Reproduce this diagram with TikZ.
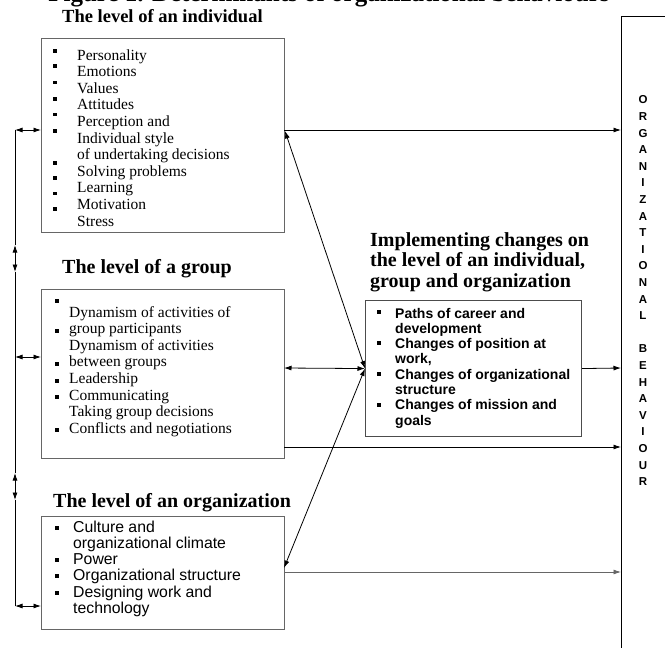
\documentclass[tikz,border=0pt]{standalone}
\usepackage{fontspec}
\setmainfont{Liberation Serif}
\setsansfont{Liberation Sans}
\usetikzlibrary{arrows.meta}

\tikzset{
  lvlbox/.style={draw=gray!80!black, line width=1.1pt, inner sep=0pt, anchor=north west},
  heading/.style={anchor=base west, inner sep=0pt, font=\bfseries\fontsize{20}{20.7}\selectfont},
  itemrm/.style={anchor=base west, inner sep=0pt, font=\fontsize{15.5}{16.6}\selectfont},
  itemsf/.style={anchor=base west, inner sep=0pt, font=\sffamily\fontsize{15.8}{16.4}\selectfont},
  itembf/.style={anchor=base west, inner sep=0pt, font=\sffamily\bfseries\fontsize{14}{15.3}\selectfont},
  obletter/.style={inner sep=0pt, font=\sffamily\bfseries\fontsize{11.5}{11.5}\selectfont},
  sq/.style={fill=black, minimum size=3.6pt, inner sep=0pt},
  link/.style={line width=0.8pt, -{Latex[length=7.5pt,width=5pt]}},
  both/.style={line width=0.8pt, {Latex[length=7.5pt,width=5pt]}-{Latex[length=7.5pt,width=5pt]}},
}

\begin{document}
\begin{tikzpicture}[x=1pt, y=-1pt]
    \useasboundingbox (0,0) rectangle (665,648);

    % Title (cut off at the top)
    \node[anchor=base, inner sep=0pt, font=\bfseries\fontsize{25}{25}\selectfont] (title) at (329,1.5) {Figure 1. Determinants of organizational behaviours};

    % Individual level
    \node[anchor=base west, inner sep=0pt, font=\bfseries\fontsize{18.5}{18.5}\selectfont] (indhead) at (62,22) {The level of an individual};
    \node[lvlbox, minimum width=243pt, minimum height=194pt] (ind) at (41,38) {};
    \foreach \t [count=\i] in {Personality, Emotions, Values, Attitudes, Perception and, Individual style, of undertaking decisions, Solving problems, Learning, Motivation, Stress}
        \node[itemrm] (ind\i) at (77,{60+16.6*(\i-1)}) {\t};
    \foreach \y [count=\i] in {50.7, 66, 82.3, 99, 114.3, 130.7, 162.7, 177.7, 193.3, 209}
        \node[sq] (indb\i) at (55,\y) {};

    % Group level
    \node[heading] (grphead) at (62,273) {The level of a group};
    \node[lvlbox, minimum width=243pt, minimum height=169pt] (grp) at (41,289) {};
    \foreach \t [count=\i] in {Dynamism of activities of, group participants, Dynamism of activities, between groups, Leadership, Communicating, Taking group decisions, Conflicts and negotiations}
        \node[itemrm] (grp\i) at (69,{317+16.6*(\i-1)}) {\t};
    \foreach \y [count=\i] in {301, 331, 364, 381, 397, 430}
        \node[sq] (grpb\i) at (57,\y) {};

    % Organization level
    \node[heading] (orghead) at (53,507) {The level of an organization};
    \node[lvlbox, minimum width=243pt, minimum height=113pt] (org) at (41,516) {};
    \foreach \t [count=\i] in {Culture and, organizational climate, Power, Organizational structure, Designing work and, technology}
        \node[itemsf] (org\i) at (73,{532+16.3*(\i-1)}) {\t};
    \foreach \y [count=\i] in {528, 560, 576, 593}
        \node[sq] (orgb\i) at (57,\y) {};

    % Implementing changes
    \foreach \t [count=\i] in {Implementing changes on, {the level of an individual,}, group and organization}
        \node[heading] (chghead\i) at (370,{246+20.7*(\i-1)}) {\t};
    \node[lvlbox, draw=black!70, minimum width=216pt, minimum height=136pt] (chg) at (365,300) {};
    \foreach \t [count=\i] in {Paths of career and, development, Changes of position at, {work,}, Changes of organizational, structure, Changes of mission and, goals}
        \node[itembf] (chg\i) at (395,{318+15.3*(\i-1)}) {\t};
    \foreach \y [count=\i] in {312, 343, 374, 405}
        \node[sq, minimum size=3.2pt] (chgb\i) at (379,\y) {};

    % Organizational behaviour
    \draw[line width=1pt] (670,16) -- (621,16) -- (621,652);
    \foreach \c [count=\i] in {O,R,G,A,N,I,Z,A,T,I,O,N,A,L}
        \node[obletter] (oa\i) at (643,{100+16.6*(\i-1)}) {\c};
    \foreach \c [count=\i] in {B,E,H,A,V,I,O,U,R}
        \node[obletter] (ob\i) at (643,{349+16.6*(\i-1)}) {\c};

    % Connection points
    \coordinate (indE) at (284,130);
    \coordinate (indD) at (285,131);
    \coordinate (grpE) at (284,368);
    \coordinate (grpF) at (284,447);
    \coordinate (orgD) at (284,568);
    \coordinate (orgE) at (284,572);
    \coordinate (obA) at (621,130);
    \coordinate (obB) at (621,368);
    \coordinate (obC) at (621,447);
    \coordinate (obD) at (621,572);

    % Arrows to organizational behaviour
    \draw[link] (indE) -- (obA);
    \draw[link] (chg.east) -- (obB);
    \draw[link] (grpF) -- (obC);
    \draw[link, draw=black!60] (orgE) -- (obD);

    % Arrows between levels and changes
    \draw[both] (indD) -- (chg.west);
    \draw[both] (grpE) -- (chg.west);
    \draw[both] (orgD) -- (chg.west);

    % Left spine
    \coordinate (sTop) at (15,130);
    \coordinate (sA) at (15,245);
    \coordinate (sB) at (15,272);
    \coordinate (sMid) at (15,357);
    \coordinate (sC) at (15,473);
    \coordinate (sD) at (15,500);
    \coordinate (sBot) at (15,606);
    \coordinate (indW) at (41,130);
    \coordinate (grpW) at (41,357);
    \coordinate (orgW) at (41,606);
    \draw[line width=0.8pt] (sTop) -- (sA);
    \draw[both] (sA) -- (sB);
    \draw[line width=0.8pt] (sB) -- (sC);
    \draw[both] (sC) -- (sD);
    \draw[line width=0.8pt] (sD) -- (sBot);
    \draw[both] (sTop) -- (indW);
    \draw[both] (sMid) -- (grpW);
    \draw[both] (sBot) -- (orgW);
\end{tikzpicture}
\end{document}
